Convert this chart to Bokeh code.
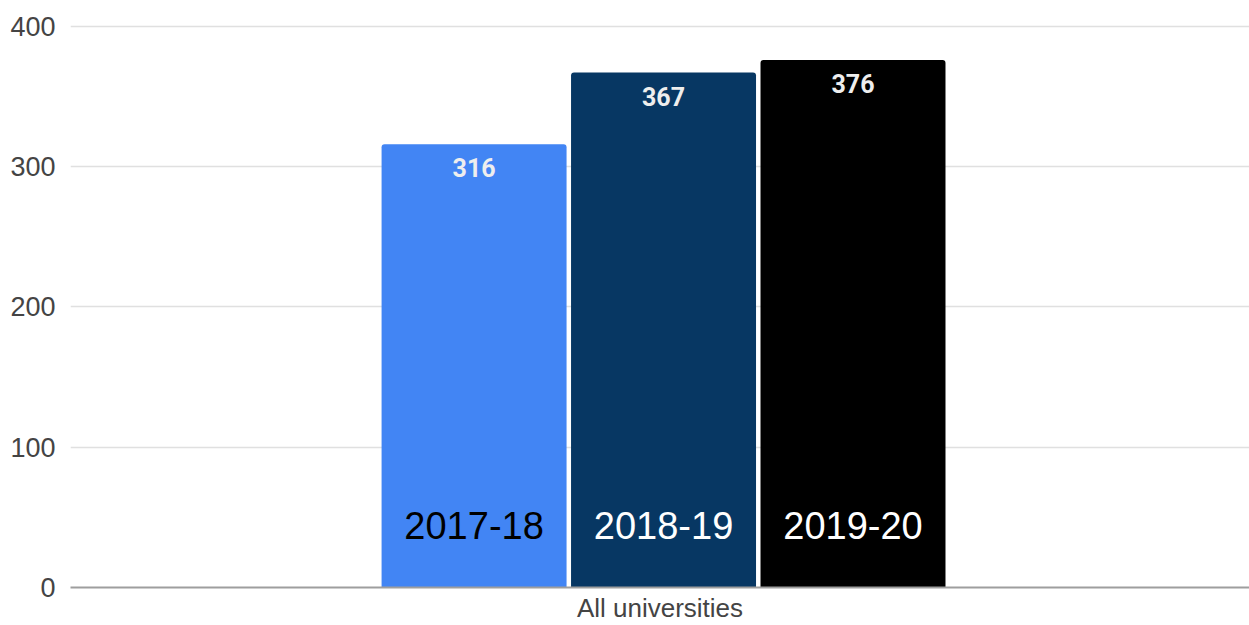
from bokeh.plotting import figure
from bokeh.models import ColumnDataSource, Range1d, FactorRange, FixedTicker
from bokeh.transform import dodge
from bokeh.core.properties import value
from bokeh.embed import file_html
from bokeh.resources import INLINE

group = ["All universities"]
years = ["2017-18", "2018-19", "2019-20"]
values = [316, 367, 376]
bar_colors = ["#4285f4", "#073763", "#000000"]
year_text_colors = ["#000000", "#ffffff", "#ffffff"]
y_ticks = [0, 100, 200, 300, 400]

p = figure(
    x_range=FactorRange(*group),
    y_range=Range1d(0, 402),
    width=1249, height=625,
    output_backend="svg", toolbar_location=None,
    min_border_left=70, min_border_right=0,
    min_border_top=23, min_border_bottom=38,
)

offsets = [-0.1577, 0.003, 0.1637]
bar_w = 0.1569

for i in range(len(years)):
    src = ColumnDataSource(dict(g=group, v=[values[i]], lab=[str(values[i])], yr=[years[i]], base=[0]))
    xs = dodge("g", offsets[i], range=p.x_range)
    p.vbar(x=xs, top="v", width=bar_w, source=src, fill_color=bar_colors[i],
           line_color=None, border_radius=(3, 3, 0, 0))
    p.text(x=xs, y="v", text="lab", source=src, text_align="center",
           text_baseline="top", y_offset=14, text_color="#eeeeee",
           text_font=value("Roboto"), text_font_size="25px", text_font_style="bold")
    p.text(x=xs, y="base", text="yr", source=src, text_align="center",
           text_baseline="alphabetic", y_offset=-62, text_color=year_text_colors[i],
           text_font=value("Liberation Sans"), text_font_size="38px")

p.outline_line_color = None
p.xgrid.grid_line_color = None
p.ygrid.grid_line_color = "#e0e0e0"
p.ygrid.grid_line_width = 1.5
p.yaxis.ticker = FixedTicker(ticks=y_ticks)
p.yaxis.axis_line_color = None
p.yaxis.major_tick_line_color = None
p.yaxis.minor_tick_line_color = None
p.yaxis.major_label_standoff = 9
p.yaxis.major_label_text_font = "Liberation Sans"
p.yaxis.major_label_text_font_size = "27px"
p.yaxis.major_label_text_color = "#444444"

p.xaxis.axis_line_color = "#9e9e9e"
p.xaxis.axis_line_width = 2
p.xaxis.major_tick_line_color = None
p.xaxis.major_tick_out = 0
p.xaxis.major_label_standoff = 5
p.xaxis.major_label_text_font = "Liberation Sans"
p.xaxis.major_label_text_font_size = "26px"
p.xaxis.major_label_text_color = "#444444"

open("out.html", "w").write(file_html(p, INLINE))
